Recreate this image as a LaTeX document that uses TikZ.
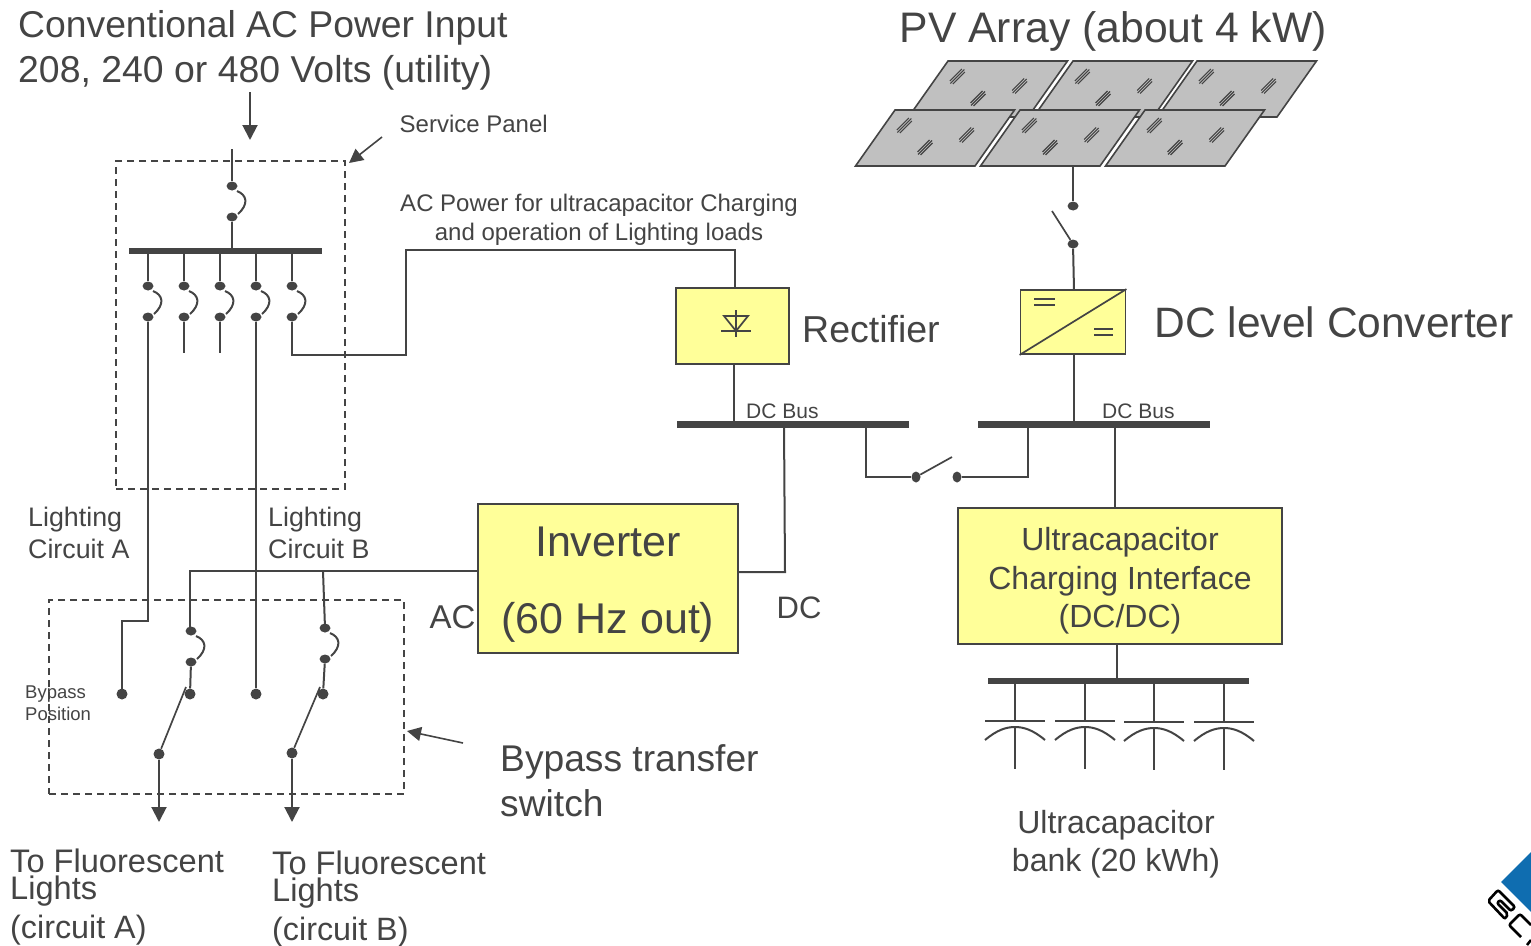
\documentclass[tikz,border=0pt]{standalone}
\usepackage{fontspec}
\setmainfont{Liberation Sans}
\usetikzlibrary{arrows.meta,shapes.geometric}
\definecolor{ink}{HTML}{444444}
\definecolor{boxfill}{HTML}{FFFF99}
\definecolor{panelfill}{HTML}{C0C0C0}
\definecolor{logoblue}{HTML}{0F6DB0}
\newcommand{\sz}[1]{\fontsize{#1}{#1}\selectfont}
\tikzset{
  wire/.style={draw=ink,line width=2pt},
  thinwire/.style={draw=ink,line width=1.7pt},
  feed/.style={wire,-{Triangle[length=15pt,width=15pt]}},
  pointer/.style={draw=ink,line width=1.6pt,-{Triangle[length=14pt,width=14pt]}},
  dot/.style={ellipse,fill=ink,inner sep=0pt,minimum width=11pt,minimum height=9pt},
  bigdot/.style={circle,fill=ink,inner sep=0pt,minimum size=11pt},
  busbar/.style={rectangle,fill=ink,inner sep=0pt,minimum height=6.5pt},
  dashbox/.style={rectangle,draw=ink,line width=1.6pt,dash pattern=on 7pt off 5pt,inner sep=0pt},
  yellowbox/.style={rectangle,draw=ink,line width=1.8pt,fill=boxfill,inner sep=0pt},
  lbl/.style={text=ink,inner sep=0pt,align=left,anchor=west},
  mid/.style={text=ink,inner sep=0pt,align=center}
}
% top dot, bottom dot and the curved link
\newcommand{\breaker}[3]{
  \node[dot] (#1t) at (#2,#3) {};
  \node[dot] (#1b) at (#2,#3+31) {};
  \draw[wire] ([shift={(5,5)}]#1t.center) .. controls ([shift={(15,9)}]#1t.center) and ([shift={(17,18)}]#1t.center) .. ([shift={(6,28)}]#1t.center);
}
% one PV module, top left corner given
\newcommand{\pvmodule}[2]{
  \draw[draw=ink,line width=1.6pt,fill=panelfill] (#1,#2) -- ++(119.5,0) -- ++(-39.5,56) -- ++(-119.5,0) -- cycle;
  \foreach \cx/\cy in {8.3/15.5,70.7/25,29/37.5}{
    \draw[draw=ink,line width=1.1pt] (#1+\cx-6.5,#2+\cy+4.5) -- ++(12,-12);
    \draw[draw=ink,line width=1.1pt] (#1+\cx-6,#2+\cy+7) -- ++(14,-14);
    \draw[draw=ink,line width=1.1pt] (#1+\cx-3.5,#2+\cy+7.5) -- ++(12,-12);
  }
}
\begin{document}
\begin{tikzpicture}[x=1pt,y=-1pt]
\useasboundingbox (0,0) rectangle (1531,945);

\node[dashbox,minimum width=229pt,minimum height=328pt] (panel) at (230.5,325) {};
\node[dashbox,minimum width=355pt,minimum height=194pt] (bypass) at (226.5,697) {};

% service panel
\coordinate (mainin) at (232,149);
\breaker{main}{232}{186}
\node[busbar,minimum width=193pt] (mainbus) at (225,251) {};
\draw[wire] (mainin) -- (maint);
\draw[wire] (mainb) -- (mainb |- mainbus);
\foreach \nm/\xx in {ba/148,bb/184,bc/220,bd/256,be/292}{
  \breaker{\nm}{\xx}{286}
  \draw[wire] (\nm t) -- (\nm t |- mainbus);
}
\coordinate (bbend) at (184,353);
\coordinate (bcend) at (220,353);
\draw[wire] (bbb) -- (bbend);
\draw[wire] (bcb) -- (bcend);

% yellow boxes
\node[yellowbox,minimum width=113pt,minimum height=76pt] (rect) at (732.5,326) {};
\node[yellowbox,minimum width=105pt,minimum height=64pt] (conv) at (1073,322) {};
\node[yellowbox,minimum width=260pt,minimum height=149pt] (inv) at (608,578.5) {};
\node[mid,font=\sz{43}] (invA) at (608,542) {Inverter};
\node[mid,font=\sz{43}] (invB) at (608,622) {(60 Hz out)};
\node[yellowbox,minimum width=324pt,minimum height=136pt] (ucap) at (1120,576) {};
\node[mid,font=\sz{32}] (ucapA) at (1120,542) {Ultracapacitor};
\node[mid,font=\sz{32}] (ucapB) at (1120,581) {Charging Interface};
\node[mid,font=\sz{32}] (ucapC) at (1120,619) {(DC/DC)};

\draw[wire] (bab) |- (122,621) coordinate (bend) -- (122,694);
\node[bigdot] (bya) at (122,694) {};
\node[bigdot] (byb) at (256,694) {};
\draw[wire] (bdb) -- (byb);
\draw[wire] (beb) |- (406,355) |- (735,250) -- (735,288);

% rectifier symbol
\draw[thinwire] (724,316) -- (748,316) -- (736,331) -- cycle;
\draw[thinwire] (721,331) -- (751,331);
\draw[thinwire] (736,310) -- (736,337);

% converter symbol
\draw[thinwire] (conv.south west) -- (conv.north east);
\draw[thinwire] (1034,299) -- (1055,299);
\draw[thinwire] (1034,305) -- (1055,305);
\draw[thinwire] (1094,329) -- (1113,329);
\draw[thinwire] (1094,335) -- (1113,335);

% DC buses
\node[busbar,minimum width=232pt,minimum height=7pt] (busl) at (793,424) {};
\node[busbar,minimum width=232pt,minimum height=7pt] (busr) at (1094,424) {};
\draw[wire] (734,364) -- (734,424);
\draw[wire] (784,424) -- (785,572) -- (738,572);
\node[dot,minimum width=9pt,minimum height=11pt] (tiel) at (916,477) {};
\node[dot,minimum width=9pt,minimum height=11pt] (tier) at (957,477) {};
\draw[wire] (866,424) |- (tiel);
\draw[wire] (tier) -| (1028,424);
\draw[thinwire] (tiel) -- (952,457);
\draw[wire] (1074,354) -- (1074,424);
\draw[wire] (1115,424) -- (1115,508);

% PV array
\foreach \xx in {948,1073,1197}{\pvmodule{\xx}{61}}
\foreach \xx in {895,1020,1145}{\pvmodule{\xx}{110}}
\coordinate (pvout) at (1073,166);
\node[dot] (pvt) at (1073,206) {};
\node[dot] (pvb) at (1073,244) {};
\coordinate (pvblade) at (1052,211);
\draw[wire] (pvout) -- (pvt);
\draw[thinwire] (pvblade) -- (pvb);
\draw[wire] (pvb) -- (1074,290);

% ultracapacitor bank
\node[busbar,minimum width=261pt] (capbus) at (1118.5,681) {};
\draw[wire] (1117,644) -- (1117,681);
\foreach \xx/\yy in {1015/721,1085/721,1154/722,1224/722}{
  \draw[wire] (\xx,681) -- (\xx,\yy);
  \draw[wire] (\xx-30,\yy) -- (\xx+30,\yy);
  \draw[wire] (\xx-30,\yy+19) .. controls (\xx-18,\yy+9) and (\xx-9,\yy+6) .. (\xx,\yy+6) .. controls (\xx+9,\yy+6) and (\xx+18,\yy+9) .. (\xx+30,\yy+19);
  \draw[wire] (\xx,\yy+6) -- (\xx,\yy+48);
}

% bypass switches
\draw[wire] (478,571) -| (190,631);
\draw[wire] (323,571) -- (325,628);
\breaker{sa}{191}{631}
\breaker{sb}{325}{628}
\node[bigdot] (cla) at (190,694) {};
\node[bigdot] (clb) at (323,694) {};
\node[bigdot] (opa) at (159,754) {};
\node[bigdot] (opb) at (292,753) {};
\coordinate (bla) at (186,687);
\coordinate (blb) at (320,687);
\coordinate (outa) at (159,822);
\coordinate (outb) at (292,822);
\draw[wire] (sab) -- (cla);
\draw[wire] (sbb) -- (clb);
\draw[thinwire] (bla) -- (opa);
\draw[thinwire] (blb) -- (opb);
\draw[feed] (opa) -- (outa);
\draw[feed] (opb) -- (outb);

% pointers
\coordinate (inA) at (250,92);
\coordinate (inB) at (250,140);
\draw[feed] (inA) -- (inB);
\coordinate (spA) at (382,137);
\coordinate (spB) at (349,163);
\draw[pointer] (spA) -- (spB);
\coordinate (btA) at (463,743);
\coordinate (btB) at (407,731);
\draw[pointer] (btA) -- (btB);

% labels
\node[lbl,font=\sz{37.3}] (titleA) at (18,28) {Conventional AC Power Input};
\node[lbl,font=\sz{37.4}] (titleB) at (18,73) {208, 240 or 480 Volts (utility)};
\node[lbl,font=\sz{42.7}] (pvtitle) at (899.5,31) {PV Array (about 4 kW)};
\node[lbl,font=\sz{24}] (splabel) at (399.5,124) {Service Panel};
\node[mid,font=\sz{24}] (acA) at (599,205) {AC Power for ultracapacitor Charging};
\node[mid,font=\sz{24}] (acB) at (599,234) {and operation of Lighting loads};
\node[lbl,font=\sz{37.5}] (rectlabel) at (802,329) {Rectifier};
\node[lbl,font=\sz{42.5}] (convlabel) at (1154.5,322) {DC level Converter};
\node[lbl,font=\sz{21}] (busA) at (746,411) {DC Bus};
\node[lbl,font=\sz{21}] (busB) at (1102,411) {DC Bus};
\node[lbl,font=\sz{26.8}] (lcaA) at (28,520) {Lighting};
\node[lbl,font=\sz{26.8}] (lcaB) at (28,549) {Circuit A};
\node[lbl,font=\sz{26.8}] (lcbA) at (268,520) {Lighting};
\node[lbl,font=\sz{26.8}] (lcbB) at (268,549) {Circuit B};
\node[lbl,font=\sz{33}] (aclabel) at (429.5,617) {AC};
\node[lbl,font=\sz{31}] (dclabel) at (776.5,608) {DC};
\node[lbl,font=\sz{18.5}] (byA) at (25,694) {Bypass};
\node[lbl,font=\sz{18.5}] (byB) at (25,714) {Position};
\node[lbl,font=\sz{37.2}] (btlA) at (500,762) {Bypass transfer};
\node[lbl,font=\sz{37.2}] (btlB) at (500,803) {switch};
\node[lbl,font=\fontsize{32.6}{27.5}\selectfont] (toaA) at (10,877.5) {To Fluorescent\\Lights};
\node[lbl,font=\sz{32.3}] (toaC) at (10,930) {(circuit A)};
\node[lbl,font=\fontsize{32.6}{27.5}\selectfont] (tobA) at (272,879.5) {To Fluorescent\\Lights};
\node[lbl,font=\sz{32.3}] (tobC) at (272,932) {(circuit B)};
\node[mid,font=\sz{32}] (bankA) at (1116,825) {Ultracapacitor};
\node[mid,font=\sz{32}] (bankB) at (1116,863) {bank (20 kWh)};

% logo corner
\begin{scope}
\clip (0,0) rectangle (1531,945);
\fill[logoblue] (1501,882) -- (1531,852) -- (1531,912) -- cycle;
\draw[black,line width=2.6pt,rounded corners=2pt] (1505,919) -- (1488,901) -- (1498,890) -- (1515,907) -- (1511,911) -- (1500,900) -- (1497,903) -- (1508,914) -- cycle;
\draw[black,line width=2.6pt,rounded corners=2pt] (1521,937) -- (1509,925) -- (1520,914) -- (1531,925);
\draw[black,line width=2.6pt] (1527,945) -- (1531,940);
\end{scope}
\end{tikzpicture}
\end{document}
